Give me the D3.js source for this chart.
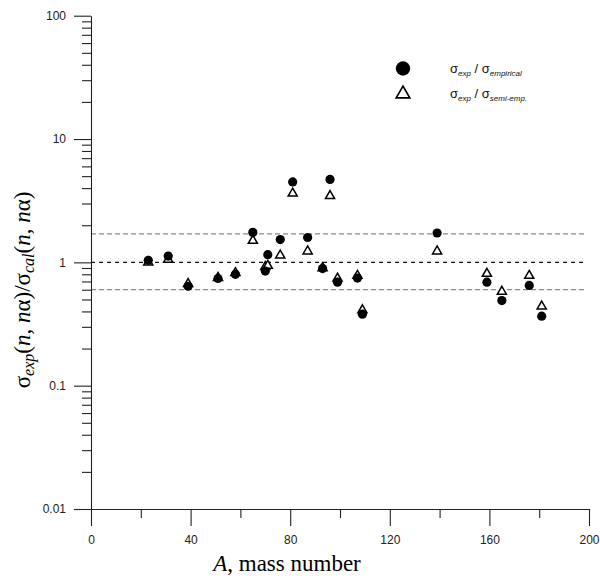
<!DOCTYPE html>
<html><head><meta charset="utf-8">
<script src="https://cdn.jsdelivr.net/npm/d3@7"></script>
<style>html,body{margin:0;padding:0;background:#fff;}</style>
</head><body>
<svg id="chart" width="600" height="576"></svg>
<script>
const massNumbers = [23, 31, 39, 51, 58, 65, 70, 71, 76, 81, 87, 93, 96, 99, 107, 109, 139, 159, 165, 176, 181];
const ratioEmpirical = [1.04, 1.125, 0.64, 0.74, 0.80, 1.75, 0.85, 1.155, 1.53, 4.49, 1.59, 0.89, 4.70, 0.69, 0.745, 0.38, 1.73, 0.69, 0.49, 0.65, 0.366];
const ratioSemiEmp = [1.0, 1.05, 0.67, 0.75, 0.82, 1.50, 0.92, 0.94, 1.14, 3.62, 1.23, 0.90, 3.46, 0.74, 0.78, 0.41, 1.23, 0.81, 0.58, 0.78, 0.44];
const refLines = [1.7, 1.0, 0.6];
const xTicks = [0, 40, 80, 120, 160, 200];
const xMinorTicks = [20, 60, 100, 140, 180];
const yTicks = [0.01, 0.1, 1, 10, 100];
const yTickLabels = ["0.01", "0.1", "1", "10", "100"];

const svg = d3.select("#chart");
const x = d3.scaleLinear().domain([0, 200]).range([91, 589]);
const y = d3.scaleLog().domain([0.01, 100]).range([509, 15.7]);

const yMinor = [];
[0.01, 0.1, 1, 10].forEach(d => { for (let k = 2; k <= 9; k++) yMinor.push(d * k); });

// reference dashed lines
svg.append("g").selectAll("line").data(refLines).join("line")
  .attr("x1", x(0)).attr("x2", 586)
  .attr("y1", d => y(d)).attr("y2", d => y(d))
  .attr("stroke", d => d === 1 ? "#111" : "#888")
  .attr("stroke-width", 1.2)
  .attr("stroke-dasharray", d => d === 1 ? "4,4" : "5,3");

// axes
const axisStyle = g => {
  g.selectAll("path,line").attr("stroke", "#222").attr("stroke-width", 1.1);
  g.selectAll("text").attr("font-family", "Liberation Sans, Arial, sans-serif").attr("font-size", 12).attr("fill", "#222");
};
svg.append("g").attr("transform", `translate(0,${y(0.01)})`)
  .call(d3.axisBottom(x).tickValues(xTicks).tickSize(17).tickSizeOuter(0).tickPadding(9).tickFormat(d3.format("d")))
  .call(axisStyle);
svg.append("g").attr("transform", `translate(0,${y(0.01)})`)
  .call(d3.axisBottom(x).tickValues(xMinorTicks).tickSize(9).tickSizeOuter(0).tickFormat(""))
  .call(g => g.select(".domain").remove())
  .call(axisStyle);
svg.append("g").attr("transform", `translate(${x(0)},0)`)
  .call(d3.axisLeft(y).tickValues(yTicks).tickSize(17).tickSizeOuter(0).tickPadding(8).tickFormat((d, i) => yTickLabels[i]))
  .call(axisStyle);
svg.append("g").attr("transform", `translate(${x(0)},0)`)
  .call(d3.axisLeft(y).tickValues(yMinor).tickSize(9).tickSizeOuter(0).tickFormat(""))
  .call(g => g.select(".domain").remove())
  .call(axisStyle);

// data
const tri = d3.symbol().type(d3.symbolTriangle).size(36);
svg.append("g").selectAll("path").data(massNumbers).join("path")
  .attr("d", tri)
  .attr("transform", (d, i) => `translate(${x(d)},${y(ratioSemiEmp[i])})`)
  .attr("fill", "#fff").attr("stroke", "#000").attr("stroke-width", 1.5);
svg.append("g").selectAll("circle").data(massNumbers).join("circle")
  .attr("cx", d => x(d)).attr("cy", (d, i) => y(ratioEmpirical[i]))
  .attr("r", 4.6).attr("fill", "#000");

// legend
const leg = svg.append("g");
leg.append("circle").attr("cx", 403).attr("cy", 68.5).attr("r", 7.2).attr("fill", "#000");
leg.append("path").attr("d", d3.symbol().type(d3.symbolTriangle).size(80))
  .attr("transform", "translate(403,94)").attr("fill", "#fff").attr("stroke", "#000").attr("stroke-width", 1.7);
function legText(yy, sub2) {
  const t = leg.append("text").attr("x", 450).attr("y", yy)
    .attr("font-family", "Liberation Sans, Arial, sans-serif").attr("font-size", 13).attr("fill", "#111");
  t.append("tspan").text("σ");
  t.append("tspan").attr("font-size", 8).attr("font-style", "italic").attr("dy", 3).text("exp");
  t.append("tspan").attr("dy", -3).text(" / σ");
  t.append("tspan").attr("font-size", 8).attr("font-style", "italic").attr("dy", 3).text(sub2);
}
legText(73, "empirical");
legText(98, "semi-emp.");

// y label
const yl = svg.append("text").attr("transform", "translate(30,290) rotate(-90)")
  .attr("text-anchor", "middle")
  .attr("font-family", "Liberation Serif, Times New Roman, serif").attr("font-size", 23).attr("fill", "#000");
yl.append("tspan").text("σ");
yl.append("tspan").attr("font-size", 16).attr("font-style", "italic").attr("dy", 4).text("exp");
yl.append("tspan").attr("dy", -4).text("(");
yl.append("tspan").attr("font-style", "italic").text("n");
yl.append("tspan").text(", ");
yl.append("tspan").attr("font-style", "italic").text("n");
yl.append("tspan").text("α)/σ");
yl.append("tspan").attr("font-size", 16).attr("font-style", "italic").attr("dy", 4).text("cal");
yl.append("tspan").attr("dy", -4).text("(");
yl.append("tspan").attr("font-style", "italic").text("n");
yl.append("tspan").text(", ");
yl.append("tspan").attr("font-style", "italic").text("n");
yl.append("tspan").text("α)");

// x label
const xl = svg.append("text").attr("x", 287).attr("y", 571).attr("text-anchor", "middle")
  .attr("font-family", "Liberation Serif, Times New Roman, serif").attr("font-size", 23).attr("fill", "#000");
xl.append("tspan").attr("font-style", "italic").text("A");
xl.append("tspan").text(", mass number");
</script>
</body></html>
